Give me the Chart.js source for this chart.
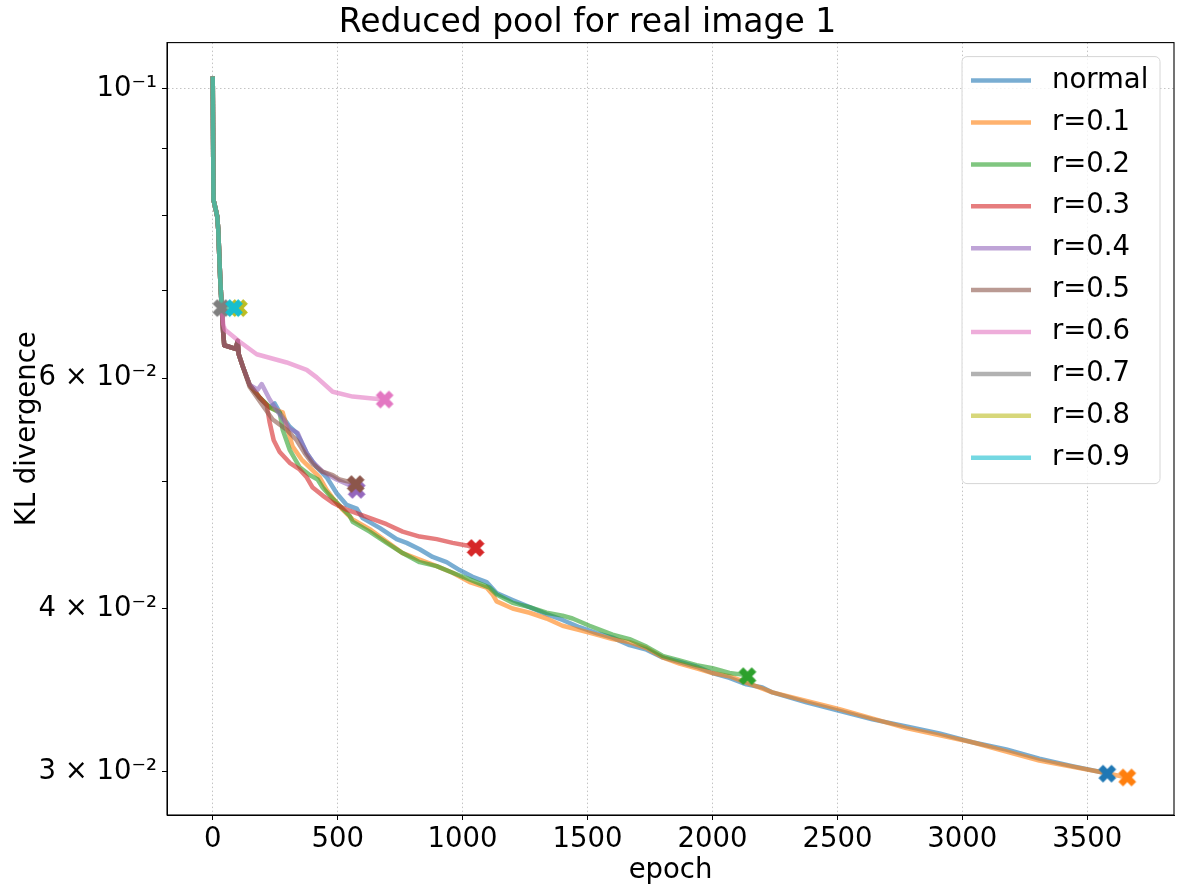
<!DOCTYPE html>
<html>
<head>
<meta charset="utf-8">
<title>Reduced pool for real image 1</title>
<script src="https://cdn.jsdelivr.net/npm/chart.js@4.4.1/dist/chart.umd.min.js"></script>
<style>
  body { margin: 0; background: #fff; }
  #wrap { width: 1184px; height: 895px; }
</style>
</head>
<body>
<div id="wrap"><canvas id="kl"></canvas></div>
<script>
// [epoch, KL divergence]
const normal = [[0,0.1021],[3,0.0822],[12,0.0808],[18,0.0798],[22,0.0780],[30,0.0715],[36,0.0680],[42,0.0650],[46,0.0636],[92,0.0632],[100,0.0641],[104,0.0626],[120,0.0613],[148,0.0593],[188,0.0580],[228,0.0570],[248,0.0574],[268,0.0565],[308,0.0551],[336,0.0545],[356,0.0536],[376,0.0526],[416,0.0513],[456,0.0504],[496,0.0490],[536,0.0480],[576,0.0477],[600,0.0469],[668,0.0461],[736,0.0452],[776,0.0449],[828,0.0444],[880,0.0438],[936,0.0434],[988,0.0428],[1040,0.0423],[1096,0.0419],[1136,0.0411],[1200,0.0406],[1268,0.0401],[1336,0.0396],[1400,0.0392],[1468,0.0387],[1536,0.0383],[1600,0.0380],[1668,0.0375],[1736,0.0372],[1800,0.0367],[1868,0.0364],[1936,0.0361],[2000,0.0357],[2068,0.0354],[2136,0.0350],[2200,0.0348],[2240,0.0345],[2376,0.0339],[2508,0.0334],[2640,0.0329],[2776,0.0325],[2908,0.0321],[3040,0.0316],[3176,0.0312],[3308,0.0307],[3440,0.0303],[3548,0.0300],[3580,0.0299]];
const r01 = [[0,0.1021],[3,0.0822],[12,0.0808],[18,0.0798],[22,0.0780],[30,0.0715],[36,0.0680],[42,0.0650],[46,0.0636],[92,0.0632],[100,0.0641],[104,0.0626],[120,0.0613],[148,0.0593],[188,0.0580],[228,0.0570],[268,0.0566],[280,0.0565],[300,0.0548],[320,0.0532],[356,0.0520],[396,0.0511],[428,0.0504],[456,0.0493],[480,0.0486],[520,0.0476],[560,0.0468],[628,0.0460],[696,0.0450],[760,0.0441],[828,0.0436],[896,0.0431],[960,0.0426],[1028,0.0419],[1096,0.0415],[1120,0.0410],[1136,0.0405],[1200,0.0400],[1268,0.0397],[1336,0.0393],[1400,0.0388],[1468,0.0385],[1536,0.0382],[1600,0.0379],[1668,0.0377],[1736,0.0373],[1800,0.0367],[1868,0.0363],[1936,0.0360],[2000,0.0357],[2068,0.0355],[2136,0.0351],[2240,0.0345],[2508,0.0335],[2776,0.0324],[3040,0.0316],[3308,0.0306],[3548,0.0300],[3660,0.0297]];
const r02 = [[0,0.1021],[3,0.0822],[12,0.0808],[18,0.0798],[22,0.0780],[30,0.0715],[36,0.0680],[42,0.0650],[46,0.0636],[92,0.0632],[100,0.0641],[104,0.0626],[120,0.0613],[148,0.0593],[188,0.0580],[228,0.0570],[268,0.0565],[280,0.0548],[308,0.0529],[348,0.0513],[388,0.0506],[420,0.0502],[440,0.0495],[468,0.0488],[496,0.0482],[548,0.0471],[560,0.0466],[628,0.0458],[696,0.0449],[760,0.0441],[828,0.0434],[896,0.0431],[960,0.0426],[1028,0.0421],[1108,0.0415],[1136,0.0410],[1200,0.0404],[1268,0.0401],[1336,0.0397],[1400,0.0395],[1440,0.0393],[1508,0.0388],[1600,0.0382],[1668,0.0379],[1736,0.0374],[1800,0.0368],[1868,0.0365],[1936,0.0362],[2000,0.0360],[2068,0.0357],[2120,0.0356],[2140,0.0355]];
const r03 = [[0,0.1021],[3,0.0822],[12,0.0808],[18,0.0798],[22,0.0780],[30,0.0715],[36,0.0680],[42,0.0650],[46,0.0636],[92,0.0632],[100,0.0641],[104,0.0626],[120,0.0613],[148,0.0593],[188,0.0580],[216,0.0572],[228,0.0555],[244,0.0538],[268,0.0527],[308,0.0517],[348,0.0511],[376,0.0504],[400,0.0495],[440,0.0488],[480,0.0482],[536,0.0476],[616,0.0470],[696,0.0464],[760,0.0458],[828,0.0454],[896,0.0452],[960,0.0449],[1016,0.0447],[1052,0.0445]];
const r04 = [[0,0.1021],[3,0.0822],[12,0.0808],[18,0.0798],[22,0.0780],[30,0.0715],[36,0.0680],[42,0.0650],[46,0.0636],[92,0.0632],[100,0.0641],[104,0.0626],[120,0.0613],[148,0.0593],[180,0.0588],[196,0.0594],[228,0.0578],[268,0.0563],[308,0.0549],[340,0.0545],[356,0.0536],[376,0.0526],[400,0.0518],[440,0.0509],[496,0.0502],[548,0.0497],[576,0.0493]];
const r05 = [[0,0.1021],[3,0.0822],[12,0.0808],[18,0.0798],[22,0.0780],[30,0.0715],[36,0.0680],[42,0.0650],[46,0.0636],[92,0.0632],[100,0.0641],[104,0.0626],[120,0.0613],[148,0.0591],[200,0.0572],[240,0.0558],[296,0.0548],[336,0.0538],[368,0.0526],[400,0.0516],[440,0.0509],[480,0.0506],[508,0.0502],[548,0.0500],[572,0.0498]];
const r06 = [[0,0.1021],[3,0.0822],[12,0.0808],[18,0.0798],[22,0.0780],[30,0.0715],[36,0.0680],[42,0.0660],[48,0.0654],[108,0.0640],[176,0.0626],[296,0.0617],[376,0.0609],[416,0.0601],[480,0.0586],[560,0.0581],[640,0.0579],[688,0.0578]];
const r07 = [[0,0.1021],[3,0.0822],[12,0.0808],[18,0.0798],[22,0.0780],[30,0.0715],[35,0.0679]];
const r08 = [[0,0.1021],[3,0.0822],[12,0.0808],[18,0.0798],[22,0.0780],[30,0.0715],[36,0.0680],[50,0.0679],[105,0.0679]];
const r09 = [[0,0.1021],[3,0.0822],[12,0.0808],[18,0.0798],[22,0.0780],[30,0.0715],[36,0.0680],[50,0.0679],[85,0.0679]];

const names = ['normal', 'r=0.1', 'r=0.2', 'r=0.3', 'r=0.4', 'r=0.5', 'r=0.6', 'r=0.7', 'r=0.8', 'r=0.9'];
const colors = ['#1f77b4', '#ff7f0e', '#2ca02c', '#d62728', '#9467bd', '#8c564b', '#e377c2', '#7f7f7f', '#bcbd22', '#17becf'];
const xTicks = [0, 500, 1000, 1500, 2000, 2500, 3000, 3500];
const yTicks = [0.03, 0.04, 0.05, 0.06, 0.07, 0.08, 0.09, 0.1];
const yLabels = {0.03: '3 × 10⁻²', 0.04: '4 × 10⁻²', 0.06: '6 × 10⁻²', 0.1: '10⁻¹'};

const series = [normal, r01, r02, r03, r04, r05, r06, r07, r08, r09];

function fade(hex, a) {
  const n = parseInt(hex.slice(1), 16);
  return `rgba(${n >> 16},${(n >> 8) & 255},${n & 255},${a})`;
}

// filled "X" marker like matplotlib's
function xMarker(color) {
  const c = document.createElement('canvas');
  c.width = 20; c.height = 20;
  const g = c.getContext('2d');
  const p = [[-1,-2],[0,-1],[1,-2],[2,-1],[1,0],[2,1],[1,2],[0,1],[-1,2],[-2,1],[-1,0],[-2,-1]];
  g.translate(10, 10);
  g.beginPath();
  p.forEach(([a, b], k) => k ? g.lineTo(a * 4.2, b * 4.2) : g.moveTo(a * 4.2, b * 4.2));
  g.closePath();
  g.fillStyle = color;
  g.fill();
  g.strokeStyle = color;
  g.lineWidth = 1;
  g.stroke();
  return c;
}

const lineSets = series.map((pts, i) => ({
  label: names[i],
  data: pts.map(([x, y]) => ({x, y})),
  borderColor: fade(colors[i], 0.6),
  borderWidth: 4.5,
  borderJoinStyle: 'round',
  pointRadius: 0,
  tension: 0,
  order: 20 - i
}));
const endSets = series.map((pts, i) => ({
  label: names[i] + ' end',
  data: [pts[pts.length - 1]].map(([x, y]) => ({x, y})),
  showLine: false,
  pointStyle: xMarker(colors[i]),
  pointRadius: 9,
  order: 10 - i
}));

const frame = {
  id: 'frame',
  afterDatasetsDraw(chart) {
    const {ctx, chartArea: a} = chart;
    ctx.save();
    ctx.strokeStyle = '#000';
    ctx.lineWidth = 1.1;
    ctx.strokeRect(a.left, a.top, a.right - a.left, a.bottom - a.top);
    ctx.restore();
  }
};

const boxLegend = {
  id: 'boxLegend',
  afterDraw(chart) {
    const {ctx, chartArea} = chart;
    const x0 = chartArea.right - 212, y0 = chartArea.top + 14;
    ctx.save();
    ctx.beginPath();
    ctx.roundRect(x0, y0, 198, 427, 5);
    ctx.fillStyle = 'rgba(255,255,255,0.8)';
    ctx.fill();
    ctx.strokeStyle = '#d6d6d6';
    ctx.lineWidth = 1;
    ctx.stroke();
    ctx.font = '27.5px "DejaVu Sans"';
    ctx.textBaseline = 'middle';
    names.forEach((name, i) => {
      const y = y0 + 24 + i * 41.9;
      ctx.strokeStyle = fade(colors[i], 0.6);
      ctx.lineWidth = 4.5;
      ctx.beginPath();
      ctx.moveTo(x0 + 9, y);
      ctx.lineTo(x0 + 69, y);
      ctx.stroke();
      ctx.fillStyle = '#000';
      ctx.fillText(name, x0 + 90, y);
    });
    ctx.restore();
  }
};

Chart.defaults.font.family = '"DejaVu Sans"';
Chart.defaults.color = '#000';

const gridColor = 'rgba(176,176,176,0.75)';

new Chart(document.getElementById('kl'), {
  type: 'line',
  data: {datasets: [...lineSets, ...endSets]},
  options: {
    responsive: true,
    maintainAspectRatio: false,
    animation: false,
    layout: {padding: {left: 0, right: 9, top: 0, bottom: 0}},
    plugins: {
      legend: {display: false},
      tooltip: {enabled: false},
      title: {
        display: true,
        text: 'Reduced pool for real image 1',
        font: {size: 33, weight: 'normal'},
        padding: {top: 4, bottom: -1}
      }
    },
    scales: {
      x: {
        type: 'linear',
        min: -183,
        max: 3847,
        afterBuildTicks: s => { s.ticks = xTicks.map(v => ({value: v})); },
        afterFit: s => { s.height = 80; },
        ticks: {callback: v => String(v), font: {size: 27.5}, padding: 3, maxRotation: 0, autoSkip: false},
        grid: {color: gridColor, tickColor: '#000', tickLength: 5, lineWidth: 1},
        border: {color: '#000', width: 1, dash: [1.5, 2.5]},
        title: {display: true, text: 'epoch', font: {size: 27.5}, padding: {top: 0, bottom: 8}}
      },
      y: {
        type: 'logarithmic',
        min: 0.0278,
        max: 0.1084,
        afterBuildTicks: s => { s.ticks = yTicks.map(v => ({value: v})); },
        afterFit: s => { s.width = 167; },
        ticks: {callback: v => yLabels[v] || '', font: {size: 27.5}, padding: 5, autoSkip: false},
        grid: {
          color: c => (c.tick && c.tick.value === 0.1) ? gridColor : 'rgba(0,0,0,0)',
          tickColor: '#000',
          tickLength: 5,
          lineWidth: 1
        },
        border: {color: '#000', width: 1, dash: [1.5, 2.5]},
        title: {display: true, text: 'KL divergence', font: {size: 27.5}, padding: {top: 11, bottom: 0}}
      }
    }
  },
  plugins: [frame, boxLegend]
});
</script>
</body>
</html>
